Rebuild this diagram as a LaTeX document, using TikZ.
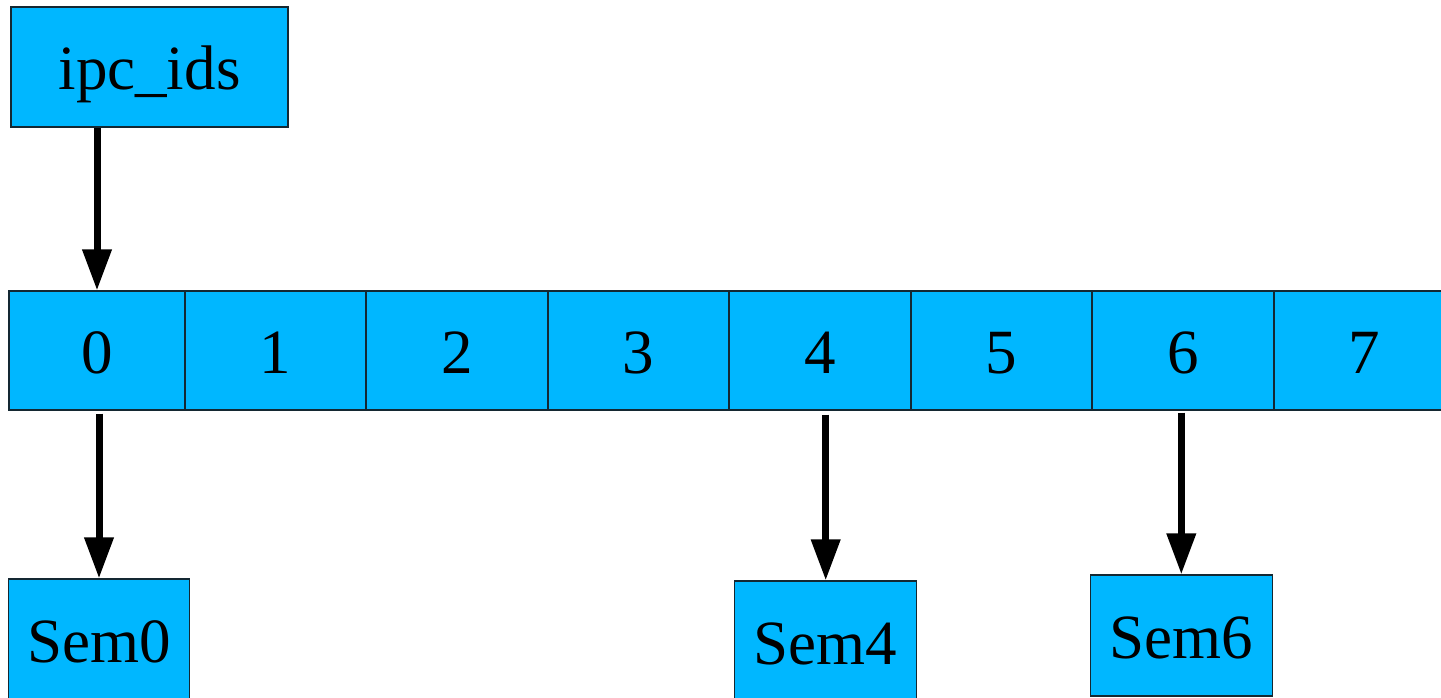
\documentclass[tikz,border=0pt]{standalone}
\usepackage{fontspec}
\setmainfont{Liberation Serif}
\usetikzlibrary{arrows.meta}
\definecolor{boxfill}{RGB}{0,183,255}
\definecolor{boxline}{RGB}{20,40,50}
\tikzset{
  box/.style={draw=boxline, fill=boxfill, line width=1.2pt, inner sep=0pt,
    font=\fontsize{63}{70}\selectfont, text height=46pt, text depth=0pt},
  link/.style={line width=7pt, -{Triangle[length=41pt,width=28pt]}}
}
\begin{document}
\begin{tikzpicture}[x=1pt,y=-1pt]
\useasboundingbox (0,0) rectangle (1441,698);
\clip (0,0) rectangle (1441,698);
\fill[white] (0,0) rectangle (1441,698);
\node[box, minimum width=277pt, minimum height=120pt] (ipc) at (149.5,67) {ipc\_ids};
\node[box, minimum width=176pt, minimum height=119pt] (c0) at (97,350.5) {0};
\node[box, minimum width=181pt, minimum height=119pt] (c1) at (275.5,350.5) {1};
\node[box, minimum width=182pt, minimum height=119pt] (c2) at (457,350.5) {2};
\node[box, minimum width=181pt, minimum height=119pt] (c3) at (638.5,350.5) {3};
\node[box, minimum width=182pt, minimum height=119pt] (c4) at (820,350.5) {4};
\node[box, minimum width=181pt, minimum height=119pt] (c5) at (1001.5,350.5) {5};
\node[box, minimum width=182pt, minimum height=119pt] (c6) at (1183,350.5) {6};
\node[box, minimum width=181pt, minimum height=119pt] (c7) at (1364.5,350.5) {7};
\node[box, minimum width=181pt, minimum height=120pt] (s0) at (99,639) {Sem0};
\node[box, minimum width=182pt, minimum height=120pt] (s4) at (825.7,641) {Sem4};
\node[box, minimum width=182pt, minimum height=121pt] (s6) at (1181.3,635.5) {Sem6};
\draw[link] (c0.north |- ipc.south) -- (c0.north);
\draw[link, shorten <=3pt] (c0.south -| s0.north) -- (s0.north);
\draw[link, shorten <=4pt] (c4.south -| s4.north) -- (s4.north);
\draw[link, shorten <=2pt] (c6.south -| s6.north) -- (s6.north);
\end{tikzpicture}
\end{document}
